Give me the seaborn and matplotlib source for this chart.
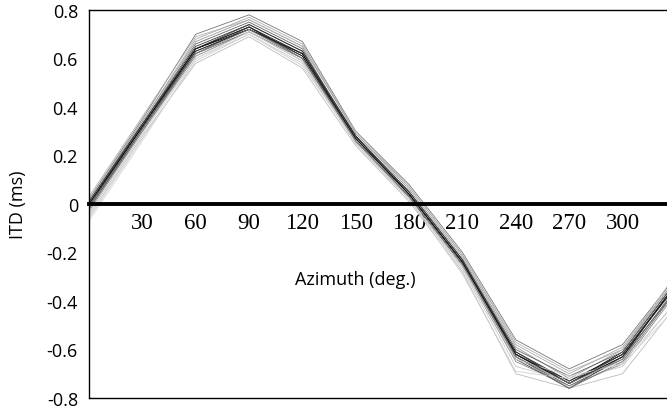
import matplotlib
matplotlib.use("Agg")
import matplotlib.pyplot as plt
import seaborn as sns
import pandas as pd

azimuth = [0, 30, 60, 90, 120, 150, 180, 210, 240, 270, 300, 330, 360]

s01 = [0.02, 0.35, 0.70, 0.78, 0.67, 0.30, 0.08, -0.20, -0.56, -0.68, -0.58, -0.30, 0.02]
s02 = [-0.05, 0.28, 0.58, 0.69, 0.56, 0.24, 0.01, -0.28, -0.70, -0.76, -0.70, -0.42, -0.04]
s03 = [0.00, 0.33, 0.65, 0.74, 0.63, 0.28, 0.05, -0.23, -0.61, -0.74, -0.63, -0.33, 0.00]
s04 = [-0.02, 0.31, 0.63, 0.72, 0.61, 0.26, 0.03, -0.25, -0.63, -0.75, -0.64, -0.35, -0.01]
s05 = [0.01, 0.34, 0.67, 0.76, 0.65, 0.29, 0.06, -0.22, -0.59, -0.72, -0.60, -0.31, 0.01]
s06 = [-0.03, 0.30, 0.61, 0.71, 0.59, 0.25, 0.02, -0.26, -0.65, -0.75, -0.66, -0.37, -0.02]
s07 = [0.00, 0.32, 0.64, 0.73, 0.62, 0.27, 0.04, -0.24, -0.62, -0.73, -0.62, -0.34, 0.00]
s08 = [-0.01, 0.32, 0.64, 0.72, 0.62, 0.28, 0.04, -0.24, -0.62, -0.74, -0.61, -0.32, 0.00]
s09 = [0.01, 0.33, 0.66, 0.75, 0.64, 0.27, 0.05, -0.23, -0.60, -0.71, -0.61, -0.32, 0.01]
s10 = [-0.04, 0.29, 0.60, 0.70, 0.58, 0.25, 0.02, -0.27, -0.67, -0.73, -0.67, -0.40, -0.03]
s11 = [0.02, 0.34, 0.68, 0.77, 0.66, 0.29, 0.07, -0.21, -0.58, -0.70, -0.59, -0.31, 0.01]
s12 = [-0.02, 0.31, 0.62, 0.73, 0.60, 0.26, 0.03, -0.25, -0.64, -0.76, -0.63, -0.36, -0.01]
s13 = [0.00, 0.32, 0.63, 0.72, 0.62, 0.27, 0.04, -0.24, -0.61, -0.73, -0.62, -0.33, 0.00]
s14 = [-0.06, 0.27, 0.59, 0.70, 0.57, 0.26, 0.02, -0.29, -0.69, -0.72, -0.65, -0.41, -0.05]
s15 = [0.01, 0.33, 0.64, 0.74, 0.63, 0.28, 0.05, -0.23, -0.62, -0.74, -0.62, -0.34, 0.00]
s16 = [-0.01, 0.31, 0.62, 0.71, 0.60, 0.26, 0.03, -0.25, -0.63, -0.76, -0.65, -0.36, -0.01]
s17 = [0.03, 0.36, 0.69, 0.76, 0.65, 0.30, 0.07, -0.21, -0.57, -0.69, -0.60, -0.29, 0.02]
s18 = [-0.07, 0.26, 0.60, 0.71, 0.59, 0.25, 0.02, -0.26, -0.64, -0.71, -0.66, -0.43, -0.05]
s19 = [0.00, 0.32, 0.64, 0.73, 0.61, 0.27, 0.04, -0.24, -0.62, -0.74, -0.63, -0.33, 0.00]
s20 = [-0.02, 0.30, 0.62, 0.72, 0.60, 0.26, 0.03, -0.25, -0.63, -0.74, -0.64, -0.35, -0.01]

series = [s01, s02, s03, s04, s05, s06, s07, s08, s09, s10,
          s11, s12, s13, s14, s15, s16, s17, s18, s19, s20]
grays = ["#777777", "#bbbbbb", "#333333", "#555555", "#999999", "#888888",
         "#222222", "#000000", "#666666", "#c8c8c8", "#aaaaaa", "#4a4a4a",
         "#2a2a2a", "#d0d0d0", "#3c3c3c", "#6e6e6e", "#b0b0b0", "#d8d8d8",
         "#1a1a1a", "#808080"]

x_ticks = [30, 60, 90, 120, 150, 180, 210, 240, 270, 300]
x_ticklabels = ["30", "60", "90", "120", "150", "180", "210", "240", "270", "300"]
y_ticks = [-0.8, -0.6, -0.4, -0.2, 0, 0.2, 0.4, 0.6, 0.8]
y_ticklabels = ["-0.8", "-0.6", "-0.4", "-0.2", "0", "0.2", "0.4", "0.6", "0.8"]

rows = []
for i, s in enumerate(series):
    for a, v in zip(azimuth, s):
        rows.append({"azimuth": a, "itd": v, "subject": f"s{i+1:02d}"})
df = pd.DataFrame(rows)

sns.set_style("white")
plt.rcParams["font.family"] = ["Open Sans", "DejaVu Sans"]
plt.rcParams["text.color"] = "black"
plt.rcParams["axes.labelcolor"] = "black"
plt.rcParams["xtick.color"] = "black"
plt.rcParams["ytick.color"] = "black"

fig = plt.figure(figsize=(6.67, 4.10), dpi=100)
ax = fig.add_axes([89 / 667, 11 / 410, 1 - 89 / 667, 388 / 410])

sns.lineplot(data=df, x="azimuth", y="itd", hue="subject", palette=grays,
             linewidth=0.6, legend=False, ax=ax, estimator=None)

ax.set_xlim(0, 325)
ax.set_ylim(-0.8, 0.8)

for side in ["left", "top", "bottom"]:
    ax.spines[side].set_visible(True)
    ax.spines[side].set_color("black")
ax.spines["right"].set_visible(False)
ax.spines["left"].set_linewidth(1.0)
ax.spines["top"].set_linewidth(1.0)
ax.spines["bottom"].set_position(("data", 0))
ax.spines["bottom"].set_linewidth(2.8)
ax.axhline(-0.8, color="black", linewidth=1.0, clip_on=False)

ax.set_xticks(x_ticks)
ax.set_xticklabels(x_ticklabels, fontfamily="Liberation Serif", fontsize=16.5)
ax.tick_params(axis="x", direction="inout", length=5, width=2, pad=3, colors="black")
ax.set_yticks(y_ticks)
ax.set_yticklabels(y_ticklabels, fontsize=13)
ax.tick_params(axis="y", direction="in", length=3, width=1, pad=8, colors="black")

ax.set_xlabel("Azimuth (deg.)", fontsize=13, color="black")
ax.xaxis.set_label_coords((355 - 89) / 578, (400 - 272) / 388)
ax.set_ylabel("ITD (ms)", fontsize=13, color="black")
ax.yaxis.set_label_coords(-0.108, 0.5)

fig.savefig("out.png", dpi=100)
